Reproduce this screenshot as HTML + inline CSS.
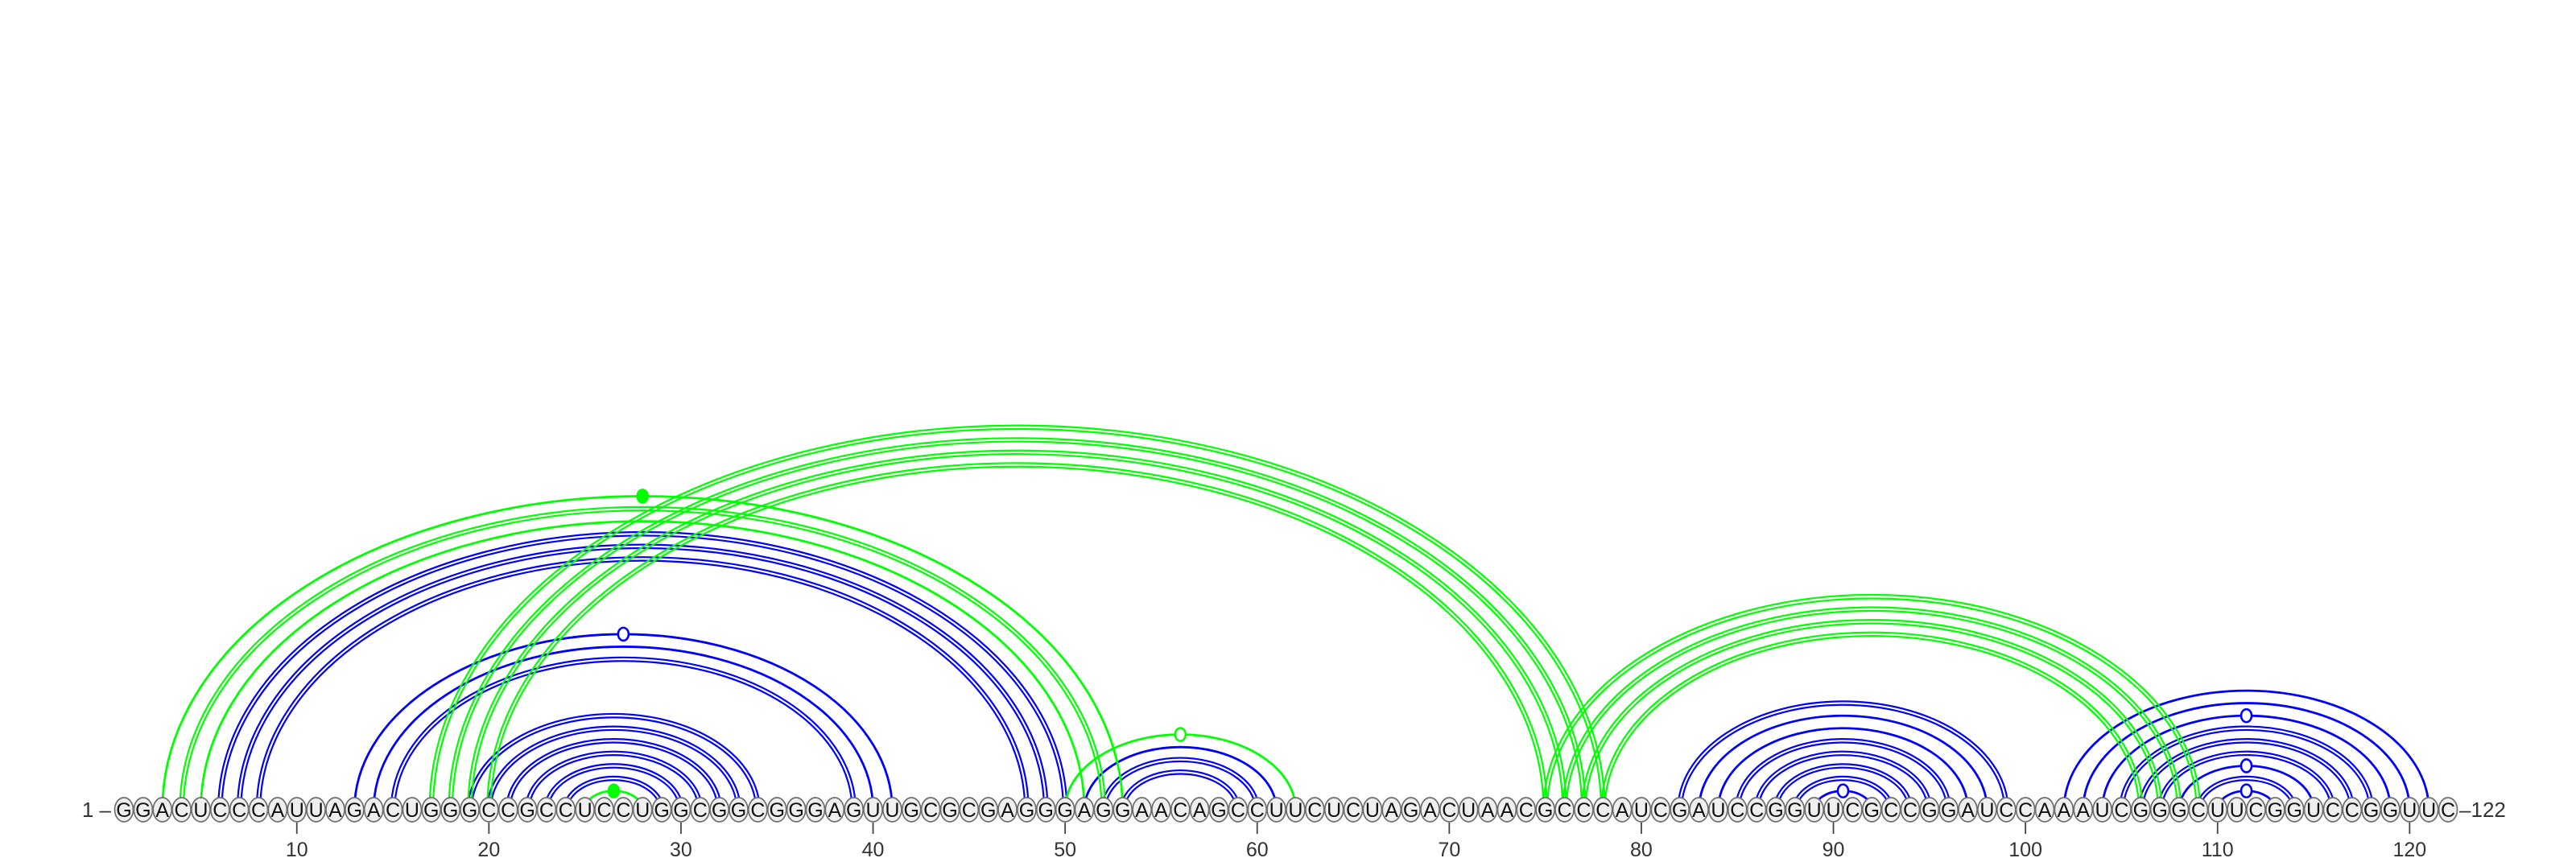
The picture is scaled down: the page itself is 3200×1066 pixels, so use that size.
<!DOCTYPE html>
<html><head><meta charset="utf-8"><style>
html,body{margin:0;padding:0;background:#fff;}
svg{display:block;}
text{font-family:"Liberation Sans","DejaVu Sans",sans-serif;}
</style></head>
<body>
<svg id="chart" width="3200" height="1066" viewBox="0 0 3200 1066" xmlns="http://www.w3.org/2000/svg">
<g id="arcs"></g>
<g id="markers"></g>
<g id="nts"></g>
<g id="axis"></g>
</svg>
<script>
const sequence = "GGACUCCCAUUAGACUGGGCCGCCUCCUGGCGGCGGGAGUUGCGCGAGGGAGGAACAGCCUUCUCUAGACUAACGCCCAUCGAUCCGGUUCGCCGGAUCCAAAUCGGGCUUCGGUCCGGUUC";
const bluePairs = [[6,50],[7,49],[8,48],[13,41],[14,40],[15,39],[19,34],[20,33],[21,32],[22,31],[23,30],[24,29],[51,61],[52,60],[53,59],[82,99],[83,98],[84,97],[85,96],[86,95],[87,94],[88,93],[89,92],[102,121],[103,120],[104,119],[105,118],[106,117],[107,116],[108,115],[109,114],[110,113]];
const greenPairs = [[3,53],[4,52],[5,51],[25,28],[50,62],[17,78],[18,77],[19,76],[20,75],[75,109],[76,108],[77,107],[78,106]];
const tickPositions = [10,20,30,40,50,60,70,80,90,100,110,120];

const NS="http://www.w3.org/2000/svg";
const X0=154, STEP=23.86, Y0=1006, K=0.653;
function xPos(i){return X0+(i-1)*STEP;}
function mk(tag,attrs,parent){const e=document.createElementNS(NS,tag);for(const k in attrs)e.setAttribute(k,attrs[k]);parent.appendChild(e);return e;}
function pairKind(a,b){const s=[a,b].sort().join('');if(s==='CG'||s==='AU')return 'wc';if(s==='GU')return 'gu';return 'mis';}
function arcPath(x1,x2,off){const cx=(x1+x2)/2,r=(x2-x1)/2+off,ry=K*((x2-x1)/2)+off;return `M${cx-r},${Y0} A${r},${ry} 0 0 1 ${cx+r},${Y0}`;}

const arcs=document.getElementById('arcs'), markers=document.getElementById('markers');
function drawPairs(list,color,label){
  list.forEach(([i,j])=>{
    const a=sequence[i-1],b=sequence[j-1];
    const x1=xPos(i),x2=xPos(j);
    const kind=pairKind(a,b);
    const isGC=[a,b].sort().join('')==='CG';
    const g=mk('g',{},arcs);
    
    
    if(isGC){
      [-2.2,2.2].forEach(o=>{mk('path',{d:arcPath(x1,x2,o),fill:'none',stroke:color,'stroke-width':2.2},g);});
    } else {
      mk('path',{d:arcPath(x1,x2,0),fill:'none',stroke:color,'stroke-width':2.8},g);
    }
    if(kind!=='wc'){
      const cx=(x1+x2)/2, cy=Y0-K*((x2-x1)/2);
      const m=mk('ellipse',{cx:cx,cy:cy,rx:6.5,ry:8,fill:kind==='gu'?'#fff':color,stroke:color,'stroke-width':2.6},markers);
      
      
    }
  });
}
drawPairs(bluePairs,'#0000ff','blue');
drawPairs(greenPairs,'#00ff00','green');

const nts=document.getElementById('nts');
for(let i=1;i<=sequence.length;i++){
  const g=mk('g',{},nts);
  
  
  mk('ellipse',{cx:xPos(i),cy:Y0,rx:11.5,ry:15,fill:'#efefef',stroke:'#6e6e6e','stroke-width':1.7},g);
  const t=mk('text',{x:xPos(i),y:Y0+9,'text-anchor':'middle','font-size':25,fill:'#111'},g);
  t.textContent=sequence[i-1];
}
const axis=document.getElementById('axis');
tickPositions.forEach(p=>{
  const l=mk('line',{x1:xPos(p),x2:xPos(p),y1:1022,y2:1036,stroke:'#444','stroke-width':1.8},axis);
  
  
  const t=mk('text',{x:xPos(p),y:1064,'text-anchor':'middle','font-size':25,fill:'#333'},axis);
  
  
  t.textContent=p;
});
const s=mk('text',{x:138,y:1015,'text-anchor':'end','font-size':26,fill:'#333'},axis);


s.textContent='1 \u2013';
const e=mk('text',{x:xPos(sequence.length)+14,y:1015,'text-anchor':'start','font-size':26,fill:'#333'},axis);


e.textContent='\u2013'+sequence.length;
</script>
</body></html>
